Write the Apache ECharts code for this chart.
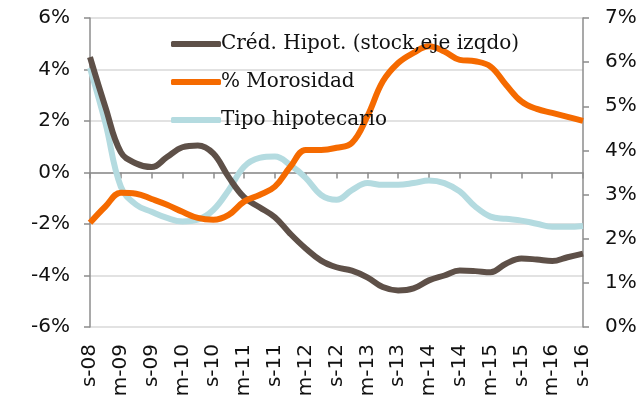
<!DOCTYPE html>
<html>
<head>
<meta charset="utf-8">
<script src="https://cdn.jsdelivr.net/npm/echarts@6/dist/echarts.min.js"></script>
<style>
  html, body { margin: 0; padding: 0; background: #fff; }
  #chart { width: 641px; height: 401px; }
</style>
</head>
<body>
<div id="chart"></div>
<script>
  // trimestres, etiqueta cada semestre
  var quarters = ['s-08','d-08','m-09','j-09','s-09','d-09','m-10','j-10','s-10','d-10',
    'm-11','j-11','s-11','d-11','m-12','j-12','s-12','d-12','m-13','j-13','s-13','d-13',
    'm-14','j-14','s-14','d-14','m-15','j-15','s-15','d-15','m-16','j-16','s-16'];

  var credHipot = [4.48, 2.54, 0.79, 0.35, 0.21, 0.6, 0.98, 1.05, 0.74, -0.18,
    -0.96, -1.35, -1.74, -2.38, -2.95, -3.42, -3.68, -3.81, -4.07, -4.45,
    -4.58, -4.5, -4.19, -4.0, -3.81, -3.83, -3.87, -3.54, -3.34, -3.38,
    -3.44, -3.29, -3.15];
  var morosidad = [2.36, 2.73, 3.04, 3.02, 2.9, 2.77, 2.61, 2.47, 2.43, 2.54,
    2.84, 2.99, 3.18, 3.63, 4.01, 4.01, 4.06, 4.17, 4.77, 5.56,
    5.98, 6.21, 6.36, 6.24, 6.05, 6.02, 5.9, 5.49, 5.11, 4.94,
    4.85, 4.76, 4.67];
  var tipoHipot = [5.87, 4.62, 3.18, 2.77, 2.61, 2.47, 2.39, 2.43, 2.65, 3.1,
    3.63, 3.83, 3.86, 3.67, 3.38, 2.99, 2.88, 3.1, 3.26, 3.22,
    3.22, 3.26, 3.32, 3.26, 3.07, 2.73, 2.5, 2.45, 2.41, 2.34,
    2.27, 2.27, 2.29];

  var axisColor = '#8c8c8c';
  var sans = 'DejaVu Sans';

  var chart = echarts.init(document.getElementById('chart'));
  chart.setOption({
    animation: false,
    grid: { left: 90, right: 58, top: 18, bottom: 74 },
    legend: {
      orient: 'vertical',
      z: 20,
      left: 166,
      top: 28,
      itemWidth: 50,
      itemHeight: 6,
      itemGap: 16,
      icon: 'roundRect',
      textStyle: { fontFamily: 'DejaVu Serif', fontSize: 20, color: '#111', lineHeight: 22, padding: [0, 0, 0, -5] },
      data: ['Créd. Hipot. (stock,eje izqdo)', '% Morosidad', 'Tipo hipotecario']
    },
    xAxis: [
      {
        type: 'category',
        data: quarters,
        boundaryGap: false,
        axisLine: { onZero: true, lineStyle: { color: axisColor, width: 1.5 } },
        axisTick: { interval: 1, length: 6, lineStyle: { color: axisColor, width: 1.5 } },
        axisLabel: { show: false }
      },
      {
        type: 'category',
        data: quarters,
        boundaryGap: false,
        position: 'bottom',
        axisLine: { show: false, onZero: false },
        axisTick: { show: false },
        axisLabel: {
          interval: 1,
          rotate: 90,
          margin: 17,
          fontFamily: sans,
          fontSize: 20,
          color: '#111'
        }
      }
    ],
    yAxis: [
      {
        type: 'value',
        min: -6,
        max: 6,
        interval: 2,
        axisLine: { show: true, lineStyle: { color: axisColor, width: 1.5 } },
        axisTick: { show: true, length: 6, lineStyle: { color: axisColor, width: 1.5 } },
        axisLabel: { formatter: '{value}%', fontFamily: sans, fontSize: 20, color: '#111', margin: 20 },
        splitLine: { lineStyle: { color: '#d9d9d9', width: 1.5 } }
      },
      {
        type: 'value',
        min: 0,
        max: 7,
        interval: 1,
        axisLine: { show: true, lineStyle: { color: axisColor, width: 1.5 } },
        axisTick: { show: true, length: 6, lineStyle: { color: axisColor, width: 1.5 } },
        axisLabel: { formatter: '{value}%', fontFamily: sans, fontSize: 20, color: '#111', margin: 22 },
        splitLine: { show: false }
      }
    ],
    series: [
      {
        name: 'Créd. Hipot. (stock,eje izqdo)',
        type: 'line',
        yAxisIndex: 0,
        z: 3,
        smooth: 0.4,
        showSymbol: false,
        itemStyle: { color: '#5e5048' },
        lineStyle: { width: 6, color: '#5e5048' },
        data: credHipot
      },
      {
        name: '% Morosidad',
        type: 'line',
        yAxisIndex: 1,
        z: 4,
        smooth: 0.4,
        showSymbol: false,
        itemStyle: { color: '#f56a00' },
        lineStyle: { width: 6, color: '#f56a00' },
        data: morosidad
      },
      {
        name: 'Tipo hipotecario',
        type: 'line',
        yAxisIndex: 1,
        z: 2,
        smooth: 0.4,
        showSymbol: false,
        itemStyle: { color: '#b4dbe0' },
        lineStyle: { width: 6, color: '#b4dbe0' },
        data: tipoHipot
      }
    ]
  });
</script>
</body>
</html>
